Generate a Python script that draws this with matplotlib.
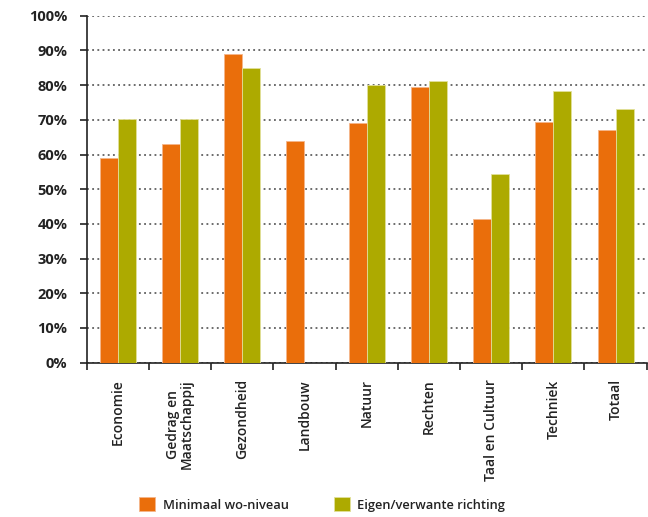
import matplotlib.pyplot as plt
import numpy as np

plt.rcParams['font.family'] = ['Open Sans', 'DejaVu Sans']

# Data
categories = ['Economie', 'Gedrag en\nMaatschappij', 'Gezondheid', 'Landbouw', 'Natuur',
              'Rechten', 'Taal en Cultuur', 'Techniek', 'Totaal']
minimaal = [59, 63, 89, 64, 69, 79.5, 41.4, 69.3, 67]
eigen = [70.3, 70.3, 85, np.nan, 80, 81.2, 54.5, 78.4, 73]
series_labels = ['Minimaal wo-niveau', 'Eigen/verwante richting']
yticks = [0, 10, 20, 30, 40, 50, 60, 70, 80, 90, 100]

orange = '#EA6E0B'
green = '#ADAA00'

fig = plt.figure(figsize=(6.48, 5.17), dpi=100)
ax = fig.add_axes([0.1338, 0.2985, 0.8642, 0.6711])

x = np.arange(len(categories))
w = 0.29
ax.bar(x - w / 2, minimaal, width=w, color=orange, edgecolor='#F5B58A', linewidth=0.6,
       label=series_labels[0], zorder=3)
ax.bar(x + w / 2, eigen, width=w, color=green, edgecolor='#E2E09A', linewidth=0.6,
       label=series_labels[1], zorder=3)

ax.set_xlim(-0.5, len(categories) - 0.5)
ax.set_ylim(0, 100)
ax.set_yticks(yticks)
ax.set_yticklabels([f'{v}%' for v in yticks], fontsize=10.5, fontweight='bold', color='#222222')
ax.set_xticks(x)
ax.set_xticklabels(categories, rotation=90, fontsize=10, fontweight='semibold', color='#222222',
                   va='top', ha='center', linespacing=1.0)
ax.set_xticks(np.arange(len(categories) + 1) - 0.5, minor=True)
ax.tick_params(axis='x', which='major', length=0, pad=12)
ax.tick_params(axis='x', which='minor', length=5, width=1.2, direction='out', color='#222222')
ax.tick_params(axis='y', length=5, width=1.2, direction='out', color='#222222', pad=9)

ax.yaxis.grid(True, linestyle=(0, (1.2, 2.2)), color='#444444', linewidth=1.1, zorder=0)
ax.set_axisbelow(True)

for s in ['top', 'right']:
    ax.spines[s].set_visible(False)
for s in ['left', 'bottom']:
    ax.spines[s].set_linewidth(1.2)
    ax.spines[s].set_color('#222222')

leg = fig.legend(loc='lower center', bbox_to_anchor=(0.497, -0.012), ncol=2, frameon=False,
                 fontsize=9.3, handlelength=1.24, handleheight=1.24, columnspacing=3.5,
                 handletextpad=0.55)
for t in leg.get_texts():
    t.set_fontweight('semibold')
    t.set_color('#222222')

plt.savefig('out.png', dpi=100)
